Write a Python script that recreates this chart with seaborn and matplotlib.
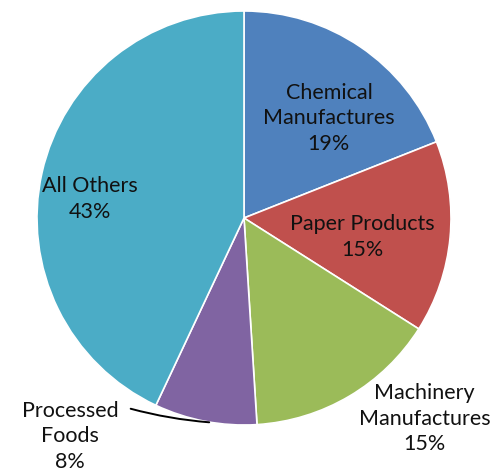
import numpy as np
import seaborn as sns
import matplotlib.pyplot as plt

# data
categories = ["Chemical\nManufactures", "Paper Products", "Machinery\nManufactures",
              "Processed\nFoods", "All Others"]
shares = [19, 15, 15, 8, 43]
colors = ["#4F81BD", "#C0504D", "#9BBB59", "#8064A2", "#4BACC6"]

sns.set_theme(style="white")
plt.rcParams['font.family'] = ['Lato', 'DejaVu Sans']

fig = plt.figure(figsize=(5.03, 4.73), dpi=100)
ax = fig.add_axes([0, 0, 1, 1])

# pixel-like coordinates: pie centre at (244, 218) from top-left
R = 207
wedges, _ = ax.pie(shares, colors=sns.color_palette(colors), startangle=90,
                   counterclock=False, radius=R,
                   wedgeprops=dict(edgecolor="white", linewidth=1.2))
ax.set_xlim(-244, 503 - 244)
ax.set_ylim(-(473 - 218), 218)
ax.set_aspect("equal")
ax.axis("off")

# label placement (distance from centre, angle in degrees)
label_pos = [(131, 49.6), (120, -9), (270, -48), (279, -128.5), (155, 173)]
for name, val, (d, a) in zip(categories, shares, label_pos):
    t = np.deg2rad(a)
    ax.text(d * np.cos(t), d * np.sin(t), f"{name}\n{val}%", ha="center", va="center",
            fontsize=15.5, color="#111111", linespacing=1.35)

# leader line for Processed Foods
t = np.deg2rad(-98.9)
ax.annotate("", xy=(R * np.cos(t), R * np.sin(t)), xytext=(-116, -190),
            arrowprops=dict(arrowstyle="-", color="black", lw=1.4,
                            connectionstyle="arc3,rad=0.05"))

fig.savefig("out.png", dpi=100)
